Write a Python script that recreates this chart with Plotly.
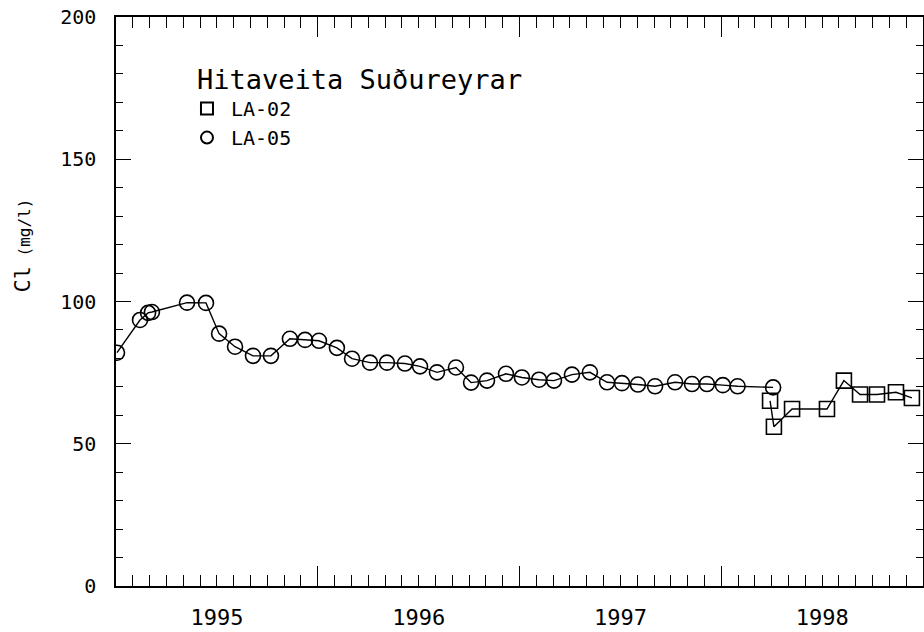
import plotly.graph_objects as go

# ---- data (decimal years, Cl mg/l) ----
la05_year = [1995.005, 1995.119, 1995.159, 1995.178, 1995.352, 1995.446, 1995.511, 1995.590,
             1995.679, 1995.768, 1995.862, 1995.937, 1996.006, 1996.095, 1996.170, 1996.259,
             1996.343, 1996.432, 1996.507, 1996.591, 1996.685, 1996.760, 1996.839, 1996.933,
             1997.012, 1997.097, 1997.171, 1997.260, 1997.349, 1997.434, 1997.508, 1997.587,
             1997.672, 1997.771, 1997.855, 1997.929, 1998.008, 1998.081, 1998.257]
la05_cl = [82.0, 93.5, 96.0, 96.3, 99.6, 99.5, 88.7, 84.1,
           80.9, 80.9, 86.9, 86.5, 86.2, 83.7, 79.9, 78.5,
           78.5, 78.2, 77.2, 75.1, 76.8, 71.5, 72.2, 74.6,
           73.3, 72.5, 72.2, 74.3, 75.1, 71.6, 71.3, 70.8,
           70.2, 71.6, 71.0, 71.0, 70.6, 70.2, 69.8]

la02_year = [1998.242, 1998.261, 1998.351, 1998.524, 1998.608, 1998.688, 1998.772, 1998.866, 1998.945]
la02_cl = [65.1, 56.0, 62.2, 62.2, 72.2, 67.3, 67.3, 68.1, 66.1]

year_labels = ["1995", "1996", "1997", "1998"]
year_label_pos = [1995.5, 1996.5, 1997.5, 1998.5]

FONT = "DejaVu Sans Mono"
INK = "#050505"

fig = go.Figure()

line_style = dict(color="black", width=1.4)
circ = dict(symbol="circle-open", size=15, color="black", line=dict(width=1.6))
sq = dict(symbol="square-open", size=15, color="black", line=dict(width=1.6))

fig.add_trace(go.Scatter(x=la05_year, y=la05_cl, mode="lines+markers", line=line_style,
                         marker=circ, showlegend=False, hoverinfo="x+y"))
fig.add_trace(go.Scatter(x=la02_year, y=la02_cl, mode="lines+markers", line=line_style,
                         marker=sq, showlegend=False, hoverinfo="x+y"))

# legend entries (markers only)
fig.add_trace(go.Scatter(x=[None], y=[None], mode="markers", name="LA-02",
                         marker=dict(symbol="square-open", size=12, color="black", line=dict(width=1.4))))
fig.add_trace(go.Scatter(x=[None], y=[None], mode="markers", name="LA-05",
                         marker=dict(symbol="circle-open", size=12, color="black", line=dict(width=1.4))))

# dummy traces for the helper axes (labels at mid-year, mirrored ticks top/right)
fig.add_trace(go.Scatter(x=year_label_pos, y=[None] * len(year_label_pos), xaxis="x2",
                         mode="markers", showlegend=False, hoverinfo="skip"))
fig.add_trace(go.Scatter(x=year_label_pos, y=[None] * len(year_label_pos), xaxis="x3", yaxis="y2",
                         mode="markers", showlegend=False, hoverinfo="skip"))


def x_ticks():
    return dict(range=[1995, 1999], tickmode="linear", tick0=1995, dtick=1,
                ticks="inside", ticklen=20, tickwidth=1.3, tickcolor=INK,
                showticklabels=False, showline=True, linecolor="black", linewidth=1.5,
                showgrid=False, zeroline=False,
                minor=dict(tick0=1995, dtick=1 / 12, ticks="inside", ticklen=11,
                           tickwidth=1.2, tickcolor=INK, showgrid=False))


def y_ticks():
    return dict(range=[0, 200], tickmode="linear", tick0=0, dtick=50,
                ticks="inside", ticklen=15, tickwidth=1.3, tickcolor=INK,
                showline=True, linecolor="black", linewidth=1.5,
                showgrid=False, zeroline=False,
                minor=dict(tick0=0, dtick=10, ticks="inside", ticklen=7, tickwidth=1.2,
                           tickcolor=INK, showgrid=False))


fig.update_layout(
    width=924, height=632,
    margin=dict(l=116, r=1, t=17, b=46),
    paper_bgcolor="white", plot_bgcolor="white",
    font=dict(family=FONT, color="black"),
    xaxis=x_ticks(),
    xaxis3=dict(x_ticks(), overlaying="x", anchor="y2", side="top"),
    xaxis2=dict(overlaying="x", anchor="y", side="bottom", range=[1995, 1999],
                tickmode="array", tickvals=year_label_pos, ticktext=year_labels,
                ticks="", showline=False, showgrid=False, zeroline=False,
                tickfont=dict(family=FONT, size=22, color="black"), ticklabelstandoff=16),
    yaxis=dict(y_ticks(), tickfont=dict(family=FONT, size=20, color="black"), ticklabelstandoff=14),
    yaxis2=dict(y_ticks(), overlaying="y", anchor="x3", side="right", showticklabels=False),
    legend=dict(x=0.083, y=0.935, xanchor="left", yanchor="top",
                bgcolor="rgba(0,0,0,0)",
                title=dict(text='<span style="font-size:20px">&nbsp;</span>Hitaveita Suðureyrar',
                           font=dict(family=FONT, size=27, color="black")),
                font=dict(family=FONT, size=20, color="black"),
                itemsizing="constant", itemwidth=38),
    annotations=[dict(xref="paper", yref="paper", x=-0.117, y=0.5975, xanchor="center", yanchor="middle",
                      textangle=-90, showarrow=False,
                      text='Cl<span style="font-size:16px"> (mg/l)</span>',
                      font=dict(family=FONT, size=22, color="black"))],
)

fig.write_html("out.html")
